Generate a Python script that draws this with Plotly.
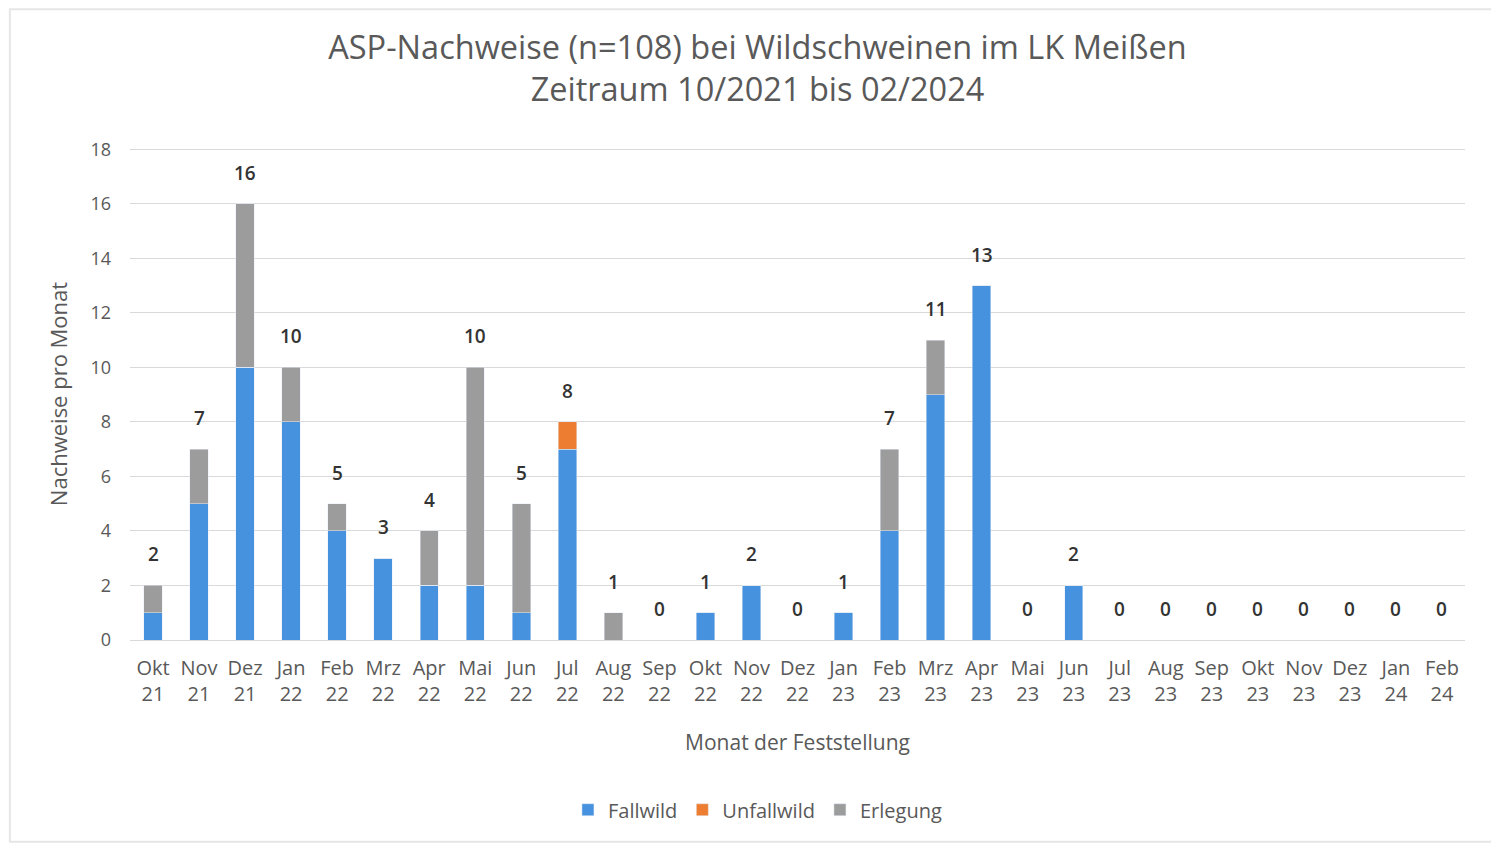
import plotly.graph_objects as go

months = ["Okt<br>21", "Nov<br>21", "Dez<br>21", "Jan<br>22", "Feb<br>22", "Mrz<br>22", "Apr<br>22",
          "Mai<br>22", "Jun<br>22", "Jul<br>22", "Aug<br>22", "Sep<br>22", "Okt<br>22", "Nov<br>22",
          "Dez<br>22", "Jan<br>23", "Feb<br>23", "Mrz<br>23", "Apr<br>23", "Mai<br>23", "Jun<br>23",
          "Jul<br>23", "Aug<br>23", "Sep<br>23", "Okt<br>23", "Nov<br>23", "Dez<br>23", "Jan<br>24", "Feb<br>24"]
fallwild =   [1, 5, 10, 8, 4, 3, 2, 2, 1, 7, 0, 0, 1, 2, 0, 1, 4, 9, 13, 0, 2, 0, 0, 0, 0, 0, 0, 0, 0]
unfallwild = [0, 0, 0, 0, 0, 0, 0, 0, 0, 1, 0, 0, 0, 0, 0, 0, 0, 0, 0, 0, 0, 0, 0, 0, 0, 0, 0, 0, 0]
erlegung =   [1, 2, 6, 2, 1, 0, 2, 8, 4, 0, 1, 0, 0, 0, 0, 0, 3, 2, 0, 0, 0, 0, 0, 0, 0, 0, 0, 0, 0]
totals = [f + u + e for f, u, e in zip(fallwild, unfallwild, erlegung)]

font_family = "Open Sans, Liberation Sans, sans-serif"
grey_text = "#595959"

fig = go.Figure()
fig.add_trace(go.Bar(x=months, y=fallwild, name="Fallwild", marker_color="#4692de", width=0.4))
fig.add_trace(go.Bar(x=months, y=unfallwild, name="Unfallwild", marker_color="#ed7d31", width=0.4))
fig.add_trace(go.Bar(x=months, y=erlegung, name="Erlegung", marker_color="#9c9c9c", width=0.4))

annotations = [dict(x=m, y=t, text=str(t), showarrow=False, yshift=31, yanchor="middle",
                    font=dict(size=19, color="#333333", family=font_family, weight=600))
               for m, t in zip(months, totals)]

fig.update_layout(
    barmode="stack",
    width=1499, height=845,
    paper_bgcolor="white", plot_bgcolor="white",
    font=dict(family=font_family, color=grey_text),
    title=dict(text="ASP-Nachweise (n=108) bei Wildschweinen im LK Meißen<br>Zeitraum 10/2021 bis 02/2024",
               x=0.5, xanchor="center", y=0.94, yanchor="top",
               font=dict(size=32.5, color=grey_text, family=font_family)),
    margin=dict(l=122, r=42, t=140, b=213, autoexpand=False),
    legend=dict(orientation="h", x=0.47, xanchor="center", y=-0.345, yanchor="middle",
                font=dict(size=20, color=grey_text), traceorder="normal"),
    annotations=annotations,
    shapes=[dict(type="rect", xref="paper", yref="paper", x0=-0.09, x1=1.0225, y0=-0.41, y1=1.282,
                 line=dict(color="#e6e6e6", width=2))],
)
fig.update_xaxes(title=dict(text="Monat der Feststellung", font=dict(size=21, color=grey_text), standoff=29),
                 tickfont=dict(size=20, color=grey_text), showgrid=False, showline=True,
                 linecolor="#d9d9d9", ticks="", tickangle=0, ticklabelstandoff=10,
                 range=[-0.5, len(months) - 0.5])
fig.update_yaxes(title=dict(text="Nachweise pro Monat", font=dict(size=22, color=grey_text), standoff=16),
                 range=[0, 18.05], dtick=2, tickfont=dict(size=18, color=grey_text), ticklabelstandoff=18,
                 gridcolor="#d9d9d9", zeroline=False, showline=False)

fig.write_html("out.html")
